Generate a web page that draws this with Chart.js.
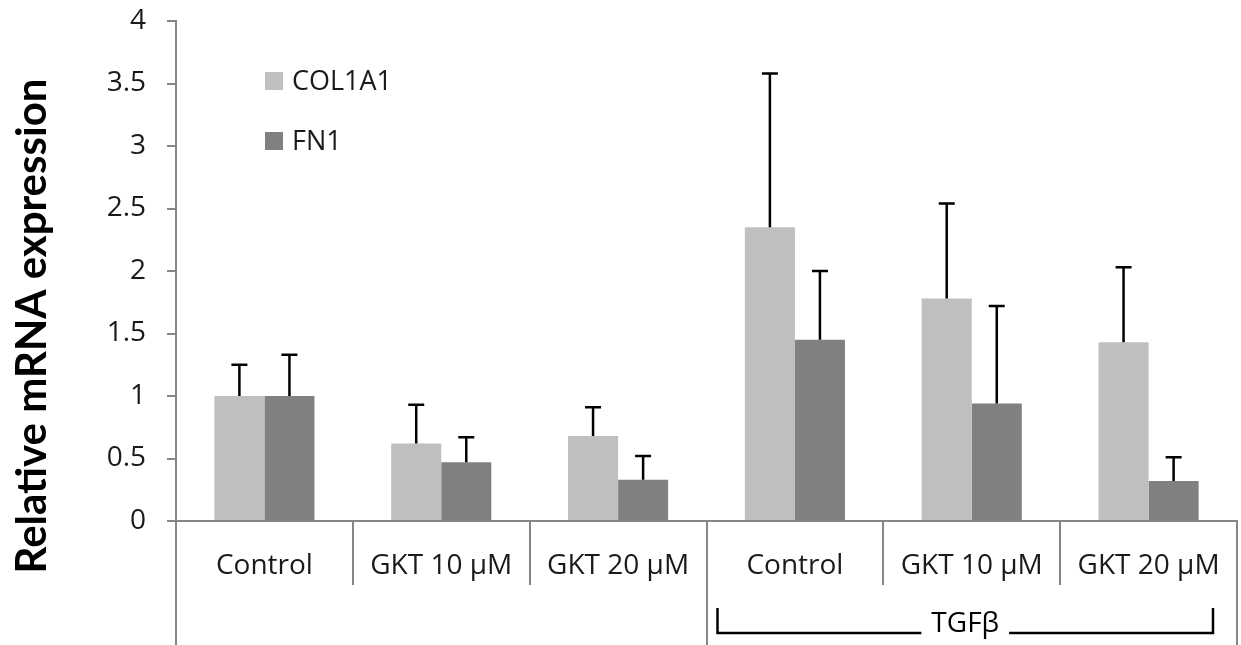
<!DOCTYPE html>
<html>
<head>
<meta charset="utf-8">
<script src="https://cdn.jsdelivr.net/npm/chart.js@4/dist/chart.umd.min.js"></script>
<style>
  body { margin: 0; background: #fff; }
  #wrap { width: 1241px; height: 645px; position: relative; }
</style>
</head>
<body>
<div id="wrap"><canvas id="chart"></canvas></div>
<script>
const categories = ['Control', 'GKT 10 µM', 'GKT 20 µM', 'Control', 'GKT 10 µM', 'GKT 20 µM'];
const col1a1 = [1.00, 0.62, 0.68, 2.35, 1.78, 1.43];
const col1a1Err = [0.25, 0.31, 0.23, 1.23, 0.76, 0.60];
const fn1 = [1.00, 0.47, 0.33, 1.45, 0.94, 0.32];
const fn1Err = [0.33, 0.20, 0.19, 0.55, 0.78, 0.19];
const yTicks = [0, 0.5, 1, 1.5, 2, 2.5, 3, 3.5, 4];
const groupLabel = 'TGFβ';
const groupStart = 3, groupEnd = 5;
const yTitle = 'Relative mRNA expression';

const FONT = '"Open Sans"';
const AXIS = '#868686';

// barres d'erreur (seulement vers le haut)
const errorBars = {
    id: 'errorBars',
    afterDatasetsDraw(chart) {
        const ctx = chart.ctx;
        const y = chart.scales.y;
        const errs = [col1a1Err, fn1Err];
        ctx.save();
        ctx.strokeStyle = '#000';
        ctx.lineWidth = 2.5;
        chart.data.datasets.forEach((ds, i) => {
            chart.getDatasetMeta(i).data.forEach((bar, j) => {
                const top = y.getPixelForValue(ds.data[j] + errs[i][j]);
                ctx.beginPath();
                ctx.moveTo(bar.x, bar.y);
                ctx.lineTo(bar.x, top);
                ctx.moveTo(bar.x - 8, top);
                ctx.lineTo(bar.x + 8, top);
                ctx.stroke();
            });
        });
        ctx.restore();
    }
};

// séparateurs, légende, titre, accolade TGFβ
const decorations = {
    id: 'decorations',
    afterDraw(chart) {
        const ctx = chart.ctx;
        const x = chart.scales.x;
        const area = chart.chartArea;
        const H = chart.height;
        const step = x.getPixelForValue(1) - x.getPixelForValue(0);
        ctx.save();

        // séparateurs de catégories
        ctx.strokeStyle = AXIS;
        ctx.lineWidth = 2;
        for (let i = 0; i <= categories.length; i++) {
            const px = Math.round(x.getPixelForValue(i) - step / 2);
            const long = (i === 0 || i === groupStart || i === categories.length);
            ctx.beginPath();
            ctx.moveTo(px, area.bottom);
            ctx.lineTo(px, long ? H : area.bottom + 64);
            ctx.stroke();
        }

        // légende
        const items = [['COL1A1', chart.data.datasets[0].backgroundColor], ['FN1', chart.data.datasets[1].backgroundColor]];
        ctx.font = '27px ' + FONT;
        ctx.textBaseline = 'middle';
        ctx.textAlign = 'left';
        items.forEach((it, k) => {
            const cy = 81 + k * 60;
            ctx.fillStyle = it[1];
            ctx.fillRect(265, cy - 9, 18, 18);
            ctx.fillStyle = '#1a1a1a';
            ctx.fillText(it[0], 292, cy + 1);
        });

        // titre de l'axe y
        ctx.save();
        ctx.translate(46, 326);
        ctx.rotate(-Math.PI / 2);
        ctx.font = 'bold 42px Lato';
        ctx.textAlign = 'center';
        ctx.textBaseline = 'alphabetic';
        ctx.fillStyle = '#000';
        ctx.fillText(yTitle, 0, 0);
        ctx.restore();

        // accolade TGFβ
        const left = x.getPixelForValue(groupStart) - step / 2 + 11;
        const right = x.getPixelForValue(groupEnd) + step / 2 - 24;
        const mid = (left + right) / 2;
        const ly = 633;
        ctx.font = '28px ' + FONT;
        ctx.textAlign = 'center';
        ctx.textBaseline = 'middle';
        const tw = ctx.measureText(groupLabel).width;
        ctx.fillStyle = '#000';
        ctx.fillText(groupLabel, mid, 624);
        ctx.strokeStyle = '#000';
        ctx.lineWidth = 2.5;
        ctx.beginPath();
        ctx.moveTo(left, 608);
        ctx.lineTo(left, ly);
        ctx.lineTo(mid - tw / 2 - 10, ly);
        ctx.moveTo(mid + tw / 2 + 10, ly);
        ctx.lineTo(right, ly);
        ctx.lineTo(right, 608);
        ctx.stroke();

        ctx.restore();
    }
};

new Chart(document.getElementById('chart'), {
    type: 'bar',
    data: {
        labels: categories,
        datasets: [
            { label: 'COL1A1', data: col1a1, backgroundColor: '#bfbfbf' },
            { label: 'FN1', data: fn1, backgroundColor: '#808080' }
        ]
    },
    options: {
        responsive: true,
        maintainAspectRatio: false,
        animation: false,
        categoryPercentage: 0.566,
        barPercentage: 1.0,
        layout: { padding: { top: 0, right: 4, left: 0, bottom: 0 } },
        plugins: { legend: { display: false }, tooltip: { enabled: false } },
        scales: {
            x: {
                grid: { display: false, drawTicks: false },
                border: { display: true, color: AXIS, width: 2 },
                ticks: { color: '#1a1a1a', font: { family: FONT, size: 28 }, padding: 28, maxRotation: 0, autoSkip: false },
                afterFit(scale) {
                    scale.height = 124;
                    scale.paddingLeft = 0;
                    scale.paddingRight = 0;
                }
            },
            y: {
                min: 0,
                max: 4,
                afterBuildTicks(scale) { scale.ticks = yTicks.map(v => ({ value: v })); },
                grid: { drawOnChartArea: false, drawTicks: true, tickLength: 9, color: AXIS, lineWidth: 2 },
                border: { display: true, color: AXIS, width: 2 },
                ticks: { color: '#1a1a1a', font: { family: FONT, size: 28 }, padding: 21, callback: v => String(v) },
                afterFit(scale) {
                    scale.width = 176;
                    scale.paddingTop = 21;
                    scale.paddingBottom = 0;
                }
            }
        }
    },
    plugins: [errorBars, decorations]
});
</script>
</body>
</html>
